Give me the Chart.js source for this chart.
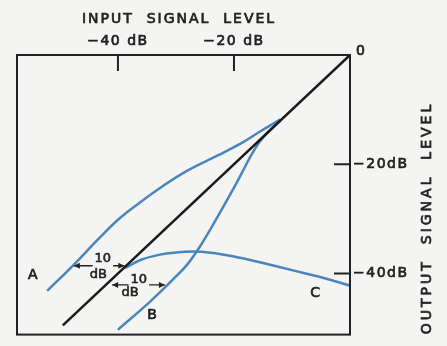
<!DOCTYPE html>
<html>
<head>
<meta charset="utf-8">
<script src="https://cdn.jsdelivr.net/npm/chart.js@4"></script>
<style>
  html, body { margin: 0; padding: 0; background: #f4f4f2; }
  canvas { display: block; }
</style>
</head>
<body>
<canvas id="chart" width="447" height="346"></canvas>
<script>
// Input signal level (x) vs output signal level (y), in dB
const unityX = [-49.5, 0];
const unityY = [-49.5, 0];

const curveAX = [-52.2, -47.8, -43.1, -39.7, -36.2, -32.8, -28.4, -22.8, -18.5, -15.5, -12.0];
const curveAY = [-43.2, -38.6, -33.4, -29.9, -27.0, -24.4, -21.4, -18.4, -16.0, -14.0, -11.8];

const curveBX = [-40.0, -34.5, -30.5, -28.0, -26.0, -24.0, -22.0, -20.0, -18.5, -17.0, -15.5, -14.0, -12.0];
const curveBY = [-50.3, -45.2, -41.1, -38.3, -35.3, -31.8, -28.1, -24.3, -21.3, -18.3, -15.8, -14.0, -12.0];

const curveCX = [-38.8, -36.0, -33.0, -30.0, -27.0, -24.0, -20.0, -15.0, -10.0, -5.0, 0];
const curveCY = [-39.0, -37.5, -36.6, -36.15, -36.0, -36.2, -36.9, -38.1, -39.4, -40.7, -42.2];

const xTicks = [-40, -20];
const xTickLabels = ["−40 dB", "−20 dB"];
const yTicks = [-40, -20];
const yTickLabels = ["−40dB", "−20dB"];
const xRange = [-57.4, 0];
const yRange = [-51.2, 0];

// curve letters and "10 dB" spans (data coordinates)
const curveNames = ["A", "B", "C"];
const curveNameX = [-54.7, -34.1, -6.0];
const curveNameY = [-40.4, -47.6, -43.6];
const spanY = [-38.6, -42.1];
const spanFrom = [-47.6, -41.0];
const spanTo = [-38.9, -31.9];
const spanNumX = [-42.6, -36.4];
const spanNumY = [-37.3, -41.1];
const spanUnitX = [-43.4, -37.9];
const spanUnitY = [-40.2, -43.6];

const ink = "#222";
const blue = "#4a86bd";
const font = "DejaVu Sans";

function toPoints(xs, ys) {
  return xs.map((x, i) => ({ x: x, y: ys[i] }));
}

function curve(xs, ys, color, smooth) {
  return {
    data: toPoints(xs, ys),
    borderColor: color,
    borderWidth: 2.5,
    pointRadius: 0,
    fill: false,
    cubicInterpolationMode: smooth ? "default" : "monotone",
    tension: 0.4
  };
}

// lettering is heavier than a plain regular face
function ink_text(ctx, text, px, py) {
  ctx.strokeText(text, px, py);
  ctx.fillText(text, px, py);
}

// small filled arrow head pointing along dir (+1 right, -1 left)
function arrowHead(ctx, px, py, dir) {
  ctx.beginPath();
  ctx.moveTo(px, py);
  ctx.lineTo(px - dir * 6, py - 3);
  ctx.lineTo(px - dir * 6, py + 3);
  ctx.closePath();
  ctx.fill();
}

const decorations = {
  id: "decorations",
  beforeDraw(chart) {
    chart.ctx.letterSpacing = "1.5px";
  },
  afterDatasetsDraw(chart) {
    const ctx = chart.ctx;
    const a = chart.chartArea;
    const x = chart.scales.x;
    const y = chart.scales.y;

    ctx.save();
    ctx.strokeStyle = ink;
    ctx.fillStyle = ink;
    ctx.lineWidth = 2;
    ctx.strokeRect(a.left, a.top, a.right - a.left, a.bottom - a.top);

    // inward tick marks
    ctx.beginPath();
    xTicks.forEach(v => {
      const px = x.getPixelForValue(v);
      ctx.moveTo(px, a.top);
      ctx.lineTo(px, a.top + 16);
    });
    yTicks.forEach(v => {
      const py = y.getPixelForValue(v);
      ctx.moveTo(a.right, py);
      ctx.lineTo(a.right - 16, py);
    });
    ctx.stroke();

    // zero at the corner
    ctx.lineWidth = 0.7;
    ctx.font = "14px " + font;
    ctx.textAlign = "left";
    ctx.textBaseline = "alphabetic";
    ink_text(ctx, "0", x.getPixelForValue(0) + 6, y.getPixelForValue(0));

    // axis titles
    ctx.letterSpacing = "2px";
    ctx.textAlign = "center";
    ink_text(ctx, "INPUT  SIGNAL  LEVEL", 179, 23);
    ctx.save();
    ctx.letterSpacing = "3px";
    ctx.translate(431, 218);
    ctx.rotate(-Math.PI / 2);
    ink_text(ctx, "OUTPUT  SIGNAL  LEVEL", 0, 0);
    ctx.restore();

    // curve letters
    ctx.letterSpacing = "0px";
    ctx.textBaseline = "middle";
    curveNames.forEach((n, i) => {
      ink_text(ctx, n, x.getPixelForValue(curveNameX[i]), y.getPixelForValue(curveNameY[i]));
    });

    // "10 dB" spans with arrows
    ctx.font = "13px " + font;
    spanY.forEach((v, i) => {
      const py = y.getPixelForValue(v);
      const x1 = x.getPixelForValue(spanFrom[i]);
      const x2 = x.getPixelForValue(spanTo[i]);
      const nx = x.getPixelForValue(spanNumX[i]);
      const half = ctx.measureText("10").width / 2 + 2;
      ctx.lineWidth = 1.4;
      ctx.beginPath();
      ctx.moveTo(x1, py);
      ctx.lineTo(nx - half, py);
      ctx.moveTo(nx + half, py);
      ctx.lineTo(x2, py);
      ctx.stroke();
      arrowHead(ctx, x1, py, -1);
      arrowHead(ctx, x2, py, 1);
      ctx.lineWidth = 0.6;
      ink_text(ctx, "10", nx, y.getPixelForValue(spanNumY[i]));
      ink_text(ctx, "dB", x.getPixelForValue(spanUnitX[i]), y.getPixelForValue(spanUnitY[i]));
    });
    ctx.restore();
  }
};

new Chart(document.getElementById("chart"), {
  type: "line",
  data: {
    datasets: [
      curve(unityX, unityY, "#1a1a1a", false),
      curve(curveAX, curveAY, blue, true),
      curve(curveBX, curveBY, blue, false),
      curve(curveCX, curveCY, blue, false)
    ]
  },
  options: {
    responsive: false,
    animation: false,
    layout: { padding: { left: 17, bottom: 3, top: 0, right: 0 } },
    plugins: { legend: { display: false }, tooltip: { enabled: false } },
    scales: {
      x: {
        type: "linear",
        position: "top",
        min: xRange[0],
        max: xRange[1],
        grid: { display: false, drawTicks: false },
        border: { display: false },
        afterBuildTicks: s => { s.ticks = xTicks.map(v => ({ value: v })); },
        afterFit: s => { s.height = 55; },
        ticks: {
          autoSkip: false,
          maxRotation: 0,
          padding: 5,
          color: ink,
          textStrokeColor: ink,
          textStrokeWidth: 0.7,
          font: { family: font, size: 14 },
          callback: (v, i) => xTickLabels[i]
        }
      },
      y: {
        type: "linear",
        position: "right",
        min: yRange[0],
        max: yRange[1],
        grid: { display: false, drawTicks: false },
        border: { display: false },
        afterBuildTicks: s => { s.ticks = yTicks.map(v => ({ value: v })); },
        afterFit: s => { s.width = 97; },
        ticks: {
          autoSkip: false,
          padding: 3,
          color: ink,
          textStrokeColor: ink,
          textStrokeWidth: 0.7,
          font: { family: font, size: 14 },
          callback: (v, i) => yTickLabels[i]
        }
      }
    }
  },
  plugins: [decorations]
});
</script>
</body>
</html>
